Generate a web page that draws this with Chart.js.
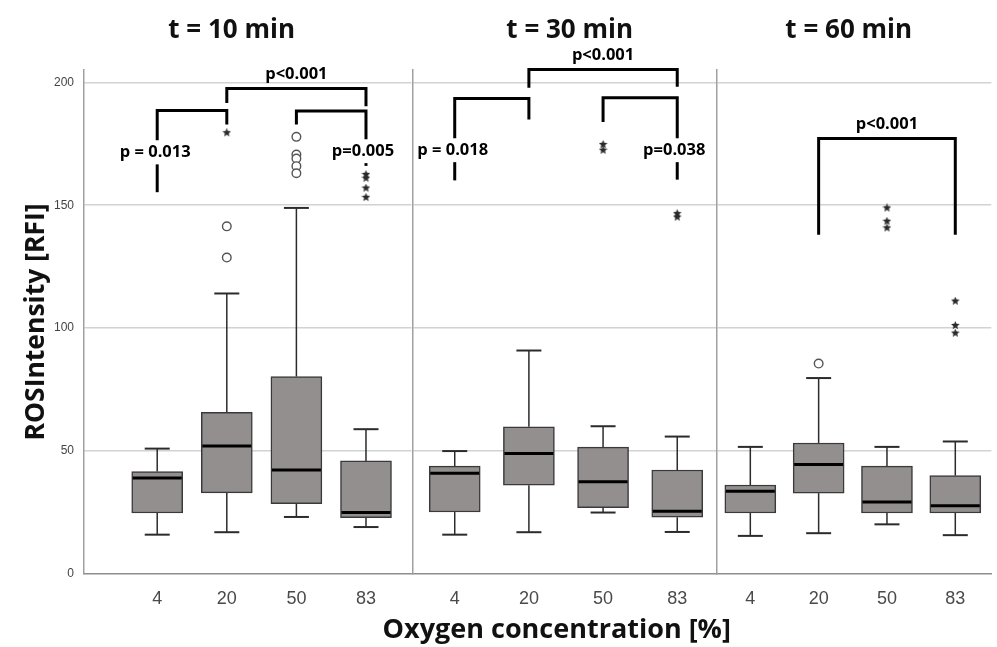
<!DOCTYPE html>
<html>
<head>
<meta charset="utf-8">
<title>ROS intensity by oxygen concentration</title>
<script src="https://cdn.jsdelivr.net/npm/chart.js@4.4.1/dist/chart.umd.min.js"></script>
<style>
  html, body { margin: 0; padding: 0; background: #ffffff; }
  #figure { position: relative; width: 997px; height: 647px; overflow: hidden; }
  .panel { position: absolute; left: 0; top: 0; width: 997px; height: 647px; }
</style>
</head>
<body>
<div id="figure">
  <div class="panel"><canvas id="panel10"></canvas></div>
  <div class="panel"><canvas id="panel30"></canvas></div>
  <div class="panel"><canvas id="panel60"></canvas></div>
</div>
<script>
// ---- data ----
const oxygenLevels = ['4', '20', '50', '83'];
const yTickValues = [0, 50, 100, 150, 200];
const panelTitles = ['t = 10 min', 't = 30 min', 't = 60 min'];
const xAxisTitle = 'Oxygen concentration [%]';
const yAxisTitle = 'ROSIntensity [RFI]';

// t = 10 min
const t10Min    = [16.0, 17.0, 23.2, 19.1];
const t10Q1     = [24.8, 33.0, 28.6, 22.9];
const t10Median = [39.0, 52.1, 42.3, 25.0];
const t10Q3     = [41.7, 65.8, 80.3, 46.0];
const t10Max    = [51.0, 114.1, 148.9, 58.9];
const t10Outliers = [[], [141.4, 128.7], [177.8, 170.6, 169.0, 165.9, 163.0], []];
const t10Extremes = [[], [179.5], [], [162.5, 161.0, 157.0, 153.2]];

// t = 30 min
const t30Min    = [16.0, 17.0, 25.0, 17.1];
const t30Q1     = [25.2, 36.1, 27.0, 23.1];
const t30Median = [41.0, 49.0, 37.5, 25.5];
const t30Q3     = [43.9, 59.9, 51.6, 42.3];
const t30Max    = [50.0, 90.9, 60.1, 55.9];
const t30Outliers = [[], [], [], []];
const t30Extremes = [[], [], [174.7, 172.4], [146.6, 145.2]];

// t = 60 min
const t60Min    = [15.5, 16.6, 20.2, 15.8];
const t60Q1     = [24.8, 32.9, 24.8, 24.8];
const t60Median = [33.7, 44.5, 29.3, 27.8];
const t60Q3     = [36.2, 53.3, 43.9, 40.0];
const t60Max    = [51.7, 79.7, 51.7, 53.9];
const t60Outliers = [[], [85.6], [], []];
const t60Extremes = [[], [], [148.9, 143.5, 140.8], [111.0, 101.1, 98.0]];

// significance brackets (category indices, heights in RFI)
const t10Brackets = [
  { from: 0, to: 1, top: 188.5, leftFoot: 155.3, rightFoot: 182.8, label: 'p = 0.013', labelOn: 'left', labelAt: 171.5 },
  { from: 1, to: 3, top: 197.5, leftFoot: 191.6, rightFoot: 190.3, label: 'p<0.001', labelOn: 'top' },
  { from: 2, to: 3, top: 188.3, leftFoot: 182.8, rightFoot: 166.0, label: 'p=0.005', labelOn: 'right', labelAt: 172.0 }
];
const t30Brackets = [
  { from: 0, to: 1, top: 193.4, leftFoot: 160.1, rightFoot: 184.9, label: 'p = 0.018', labelOn: 'left', labelAt: 172.4 },
  { from: 1, to: 3, top: 205.2, leftFoot: 197.8, rightFoot: 198.2, label: 'p<0.001', labelOn: 'top' },
  { from: 2, to: 3, top: 193.7, leftFoot: 183.9, rightFoot: 160.4, label: 'p=0.038', labelOn: 'right', labelAt: 172.4 }
];
const t60Brackets = [
  { from: 1, to: 3, top: 177.1, leftFoot: 138.0, rightFoot: 138.0, label: 'p<0.001', labelOn: 'top' }
];

// ---- drawing helpers ----
Chart.defaults.animation = false;

const TEXT_FONT = '"Open Sans", Lato, sans-serif';
const TICK_FONT = '"Liberation Sans", Arial, sans-serif';
Chart.defaults.font.family = TEXT_FONT;

function makeStar(size, color) {
  const c = document.createElement('canvas');
  c.width = c.height = size;
  const g = c.getContext('2d');
  const r = size / 2, ri = r * 0.45;
  g.beginPath();
  for (let k = 0; k < 10; k++) {
    const a = -Math.PI / 2 + k * Math.PI / 5;
    const rr = k % 2 ? ri : r;
    g.lineTo(r + rr * Math.cos(a), r + rr * Math.sin(a));
  }
  g.closePath();
  g.fillStyle = color;
  g.fill();
  return c;
}
const starMark = makeStar(9, '#2a2a2a');

function toPoints(groups) {
  const pts = [];
  groups.forEach((vals, i) => vals.forEach(v => pts.push({ x: i, y: v })));
  return pts;
}

function strokeLine(ctx, x1, y1, x2, y2) {
  ctx.beginPath();
  ctx.moveTo(x1, y1);
  ctx.lineTo(x2, y2);
  ctx.stroke();
}

// whiskers, caps and median lines of the box plots
function whiskerPlugin(stats) {
  return {
    id: 'boxWhiskers',
    beforeDatasetsDraw(chart) {
      const { ctx, scales: { x, y } } = chart;
      ctx.save();
      ctx.strokeStyle = '#2b2b2b';
      stats.median.forEach((_, i) => {
        const cx = x.getPixelForValue(i);
        const yMax = y.getPixelForValue(stats.max[i]);
        const yQ3 = y.getPixelForValue(stats.q3[i]);
        const yQ1 = y.getPixelForValue(stats.q1[i]);
        const yMin = y.getPixelForValue(stats.min[i]);
        ctx.lineWidth = 1.5;
        strokeLine(ctx, cx, yQ3, cx, yMax);
        strokeLine(ctx, cx, yQ1, cx, yMin);
        ctx.lineWidth = 2;
        strokeLine(ctx, cx - 12.5, yMax, cx + 12.5, yMax);
        strokeLine(ctx, cx - 12.5, yMin, cx + 12.5, yMin);
      });
      ctx.restore();
    },
    afterDatasetDraw(chart, args) {
      if (args.index !== 0) return;
      const { ctx, scales: { y } } = chart;
      const meta = chart.getDatasetMeta(0);
      ctx.save();
      ctx.strokeStyle = '#000000';
      ctx.lineWidth = 3;
      meta.data.forEach((bar, i) => {
        const ym = y.getPixelForValue(stats.median[i]);
        strokeLine(ctx, bar.x - bar.width / 2 + 1, ym, bar.x + bar.width / 2 - 1, ym);
      });
      ctx.restore();
    }
  };
}

// significance brackets with their p-values
function bracketPlugin(brackets) {
  const gap = 12;
  return {
    id: 'sigBrackets',
    afterDraw(chart) {
      const { ctx, scales: { x, y } } = chart;
      ctx.save();
      ctx.strokeStyle = '#000000';
      ctx.fillStyle = '#000000';
      ctx.lineWidth = 3;
      ctx.lineCap = 'butt';
      ctx.lineJoin = 'miter';
      ctx.font = 'bold 16.5px ' + TEXT_FONT;
      ctx.textAlign = 'center';
      ctx.textBaseline = 'middle';
      brackets.forEach(b => {
        const x1 = x.getPixelForValue(b.from);
        const x2 = x.getPixelForValue(b.to);
        const yTop = y.getPixelForValue(b.top);
        const yL = y.getPixelForValue(b.leftFoot);
        const yR = y.getPixelForValue(b.rightFoot);
        const yLab = b.labelAt !== undefined ? y.getPixelForValue(b.labelAt) : null;
        ctx.beginPath();
        ctx.moveTo(x1, b.labelOn === 'left' ? yLab - gap : yL);
        ctx.lineTo(x1, yTop);
        ctx.lineTo(x2, yTop);
        ctx.lineTo(x2, b.labelOn === 'right' ? yLab - gap : yR);
        ctx.stroke();
        if (b.labelOn === 'left') {
          strokeLine(ctx, x1, yLab + gap, x1, yL);
          ctx.fillText(b.label, x1 - 2, yLab);
        } else if (b.labelOn === 'right') {
          strokeLine(ctx, x2, yLab + gap, x2, yR);
          ctx.fillText(b.label, x2 - 3, yLab);
        } else {
          ctx.fillText(b.label, (x1 + x2) / 2, yTop - 14);
        }
      });
      ctx.restore();
    }
  };
}

// bold text placed along the x scale: panel headings and the shared axis caption
function captionPlugin(id, text, centerAt, baseline, size) {
  return {
    id,
    afterDraw(chart) {
      const { ctx, scales: { x } } = chart;
      ctx.save();
      ctx.font = 'bold ' + size + 'px ' + TEXT_FONT;
      ctx.fillStyle = '#111111';
      ctx.textAlign = 'center';
      ctx.textBaseline = 'alphabetic';
      ctx.fillText(text, x.getPixelForValue(centerAt), baseline);
      ctx.restore();
    }
  };
}

function makePanel(canvasId, p) {
  const stats = p.stats;
  const extras = [whiskerPlugin(stats), bracketPlugin(p.brackets),
                  captionPlugin('panelHeading', p.title, p.titleAt, 38, 26)];
  if (p.xCaptionAt !== undefined) {
    extras.push(captionPlugin('axisCaption', xAxisTitle, p.xCaptionAt, 638, 27));
  }
  return new Chart(document.getElementById(canvasId), {
    type: 'bar',
    data: {
      datasets: [
        {
          type: 'bar',
          data: oxygenLevels.map((_, i) => ({ x: i, y: [stats.q1[i], stats.q3[i]] })),
          backgroundColor: '#938f8f',
          borderColor: '#3a3a3a',
          borderWidth: 1.5,
          borderSkipped: false,
          barThickness: 51
        },
        {
          type: 'scatter',
          data: toPoints(p.outliers),
          pointStyle: 'circle',
          pointRadius: 4.3,
          pointBorderWidth: 1.4,
          pointBorderColor: '#555555',
          pointBackgroundColor: '#ffffff'
        },
        {
          type: 'scatter',
          data: toPoints(p.extremes),
          pointStyle: starMark,
          pointRadius: 4.5
        }
      ]
    },
    options: {
      responsive: true,
      maintainAspectRatio: false,
      animation: false,
      layout: { padding: { left: p.padLeft, right: p.padRight, top: 70, bottom: 0 } },
      plugins: { legend: { display: false }, tooltip: { enabled: false }, title: { display: false } },
      scales: {
        x: {
          type: 'linear',
          min: p.xMin,
          max: p.xMax,
          offset: false,
          afterBuildTicks: s => { s.ticks = oxygenLevels.map((_, i) => ({ value: i })); },
          afterFit: s => { s.height = 73; },
          ticks: {
            callback: v => oxygenLevels[v],
            color: '#4a4a4a',
            font: { family: TICK_FONT, size: 18 },
            padding: 6,
            maxRotation: 0,
            autoSkip: false
          },
          grid: { display: false, offset: false },
          border: { display: true, color: '#8e8e8e', width: 1.5 }
        },
        y: {
          min: 0,
          max: 205,
          afterBuildTicks: s => { s.ticks = yTickValues.map(v => ({ value: v })); },
          afterFit: s => { s.width = p.showY ? 84 : 0; },
          ticks: {
            display: p.showY,
            padding: 10,
            color: '#444444',
            font: { family: TICK_FONT, size: 12 }
          },
          grid: {
            color: c => (c.tick && c.tick.value === 0) ? 'rgba(0,0,0,0)' : '#d2d2d2',
            lineWidth: 1.5,
            drawTicks: false
          },
          border: { display: true, color: '#a0a0a0', width: 1.5 },
          title: {
            display: p.showY,
            text: yAxisTitle,
            color: '#111111',
            font: { family: TEXT_FONT, weight: 'bold', size: 26.5 },
            padding: { top: 21, bottom: 0 }
          }
        }
      }
    },
    plugins: extras
  });
}

makePanel('panel10', {
  stats: { min: t10Min, q1: t10Q1, median: t10Median, q3: t10Q3, max: t10Max },
  outliers: t10Outliers, extremes: t10Extremes, brackets: t10Brackets,
  title: panelTitles[0], titleAt: 1.07,
  xMin: -1.052, xMax: 3.654, padLeft: 0, padRight: 585.5,
  showY: true
});
makePanel('panel30', {
  stats: { min: t30Min, q1: t30Q1, median: t30Median, q3: t30Q3, max: t30Max },
  outliers: t30Outliers, extremes: t30Extremes, brackets: t30Brackets,
  title: panelTitles[1], titleAt: 1.55, xCaptionAt: 1.375,
  xMin: -0.572, xMax: 3.532, padLeft: 412.3, padRight: 280.3,
  showY: false
});
makePanel('panel60', {
  stats: { min: t60Min, q1: t60Q1, median: t60Median, q3: t60Q3, max: t60Max },
  outliers: t60Outliers, extremes: t60Extremes, brackets: t60Brackets,
  title: panelTitles[2], titleAt: 1.44,
  xMin: -0.492, xMax: 3.527, padLeft: 716.7, padRight: 0,
  showY: false
});
</script>
</body>
</html>
